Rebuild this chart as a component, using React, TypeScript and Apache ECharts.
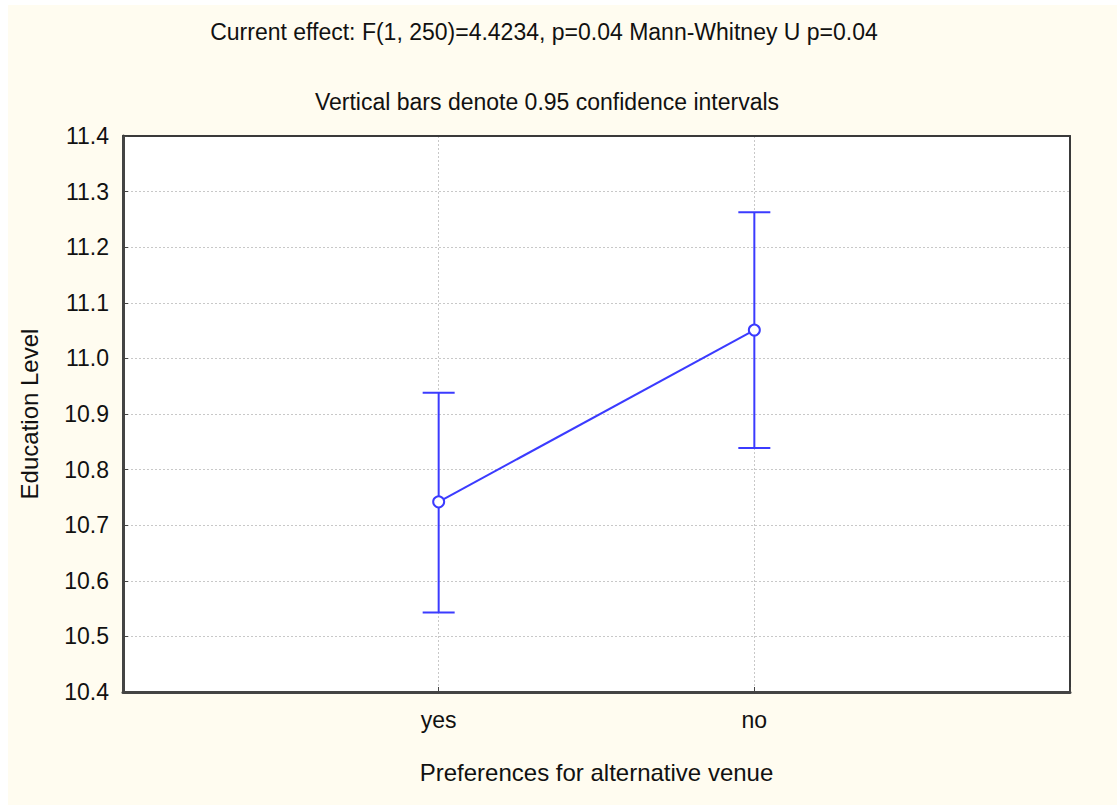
import React, { useEffect, useRef } from "react";
import * as echarts from "echarts";

const categories = ["yes", "no"];
const means = [10.742, 11.051];
const lowerCI = [10.543, 10.839];
const upperCI = [10.938, 11.263];
const yTicks = { min: 10.4, max: 11.4, step: 0.1 };
const titleLine1 = "Current effect: F(1, 250)=4.4234, p=0.04 Mann-Whitney U p=0.04";
const titleLine2 = "Vertical bars denote 0.95 confidence intervals";
const xName = "Preferences for alternative venue";
const yName = "Education Level";

const BLUE = "#3b3bff";
const FONT = "'Liberation Sans', Arial, sans-serif";

export default function App() {
  const ref = useRef<HTMLDivElement>(null);
  useEffect(() => {
    if (!ref.current) return;
    const chart = echarts.init(ref.current, undefined, { renderer: "svg" });
    const lineData = means.map((m, i) => [i + 1, m]);
    const errData = means.map((_, i) => [i + 1, lowerCI[i], upperCI[i]]);
    const frameAxis = {
      type: "value",
      min: 0,
      max: 1,
      axisLine: { show: true, onZero: false, lineStyle: { color: "#3a3a3a", width: 2 } },
      axisTick: { show: false },
      axisLabel: { show: false },
      splitLine: { show: false },
    };
    chart.setOption({
      animation: false,
      backgroundColor: "#fffcf0",
      textStyle: { fontFamily: FONT },
      graphic: [
        {
          type: "text",
          x: 536,
          y: 27,
          style: {
            text: titleLine1,
            fontSize: 23,
            fill: "#111",
            fontFamily: FONT,
            textAlign: "center",
            textVerticalAlign: "middle",
          },
        },
        {
          type: "text",
          x: 539,
          y: 97,
          style: {
            text: titleLine2,
            fontSize: 23,
            fill: "#111",
            fontFamily: FONT,
            textAlign: "center",
            textVerticalAlign: "middle",
          },
        },
      ],
      grid: {
        left: 115,
        right: 47,
        top: 131,
        bottom: 113,
        containLabel: false,
        outerBoundsMode: "none",
        show: true,
        backgroundColor: "#ffffff",
        borderColor: "#3a3a3a",
        borderWidth: 0,
      },
      xAxis: [
        {
          type: "value",
          min: 0,
          max: 3,
          interval: 1,
          name: xName,
          nameLocation: "middle",
          nameGap: 68,
          nameTextStyle: { fontSize: 24, color: "#111", fontFamily: FONT },
          axisLine: { show: true, lineStyle: { color: "#444", width: 3 } },
          axisTick: { show: true, inside: true, length: 5, lineStyle: { color: "#444", width: 1 } },
          axisLabel: {
            fontSize: 23,
            color: "#111",
            margin: 16,
            formatter: (v: number) => (v >= 1 && v <= categories.length ? categories[v - 1] : ""),
          },
          splitLine: { show: true, lineStyle: { color: "#c8c8c8", type: [2, 2], width: 1 } },
        },
        { ...frameAxis, position: "top" },
      ],
      yAxis: [
        {
          type: "value",
          min: yTicks.min,
          max: yTicks.max,
          interval: yTicks.step,
          name: yName,
          nameLocation: "middle",
          nameGap: 82,
          nameTextStyle: { fontSize: 24, color: "#111", fontFamily: FONT },
          axisLine: { show: true, lineStyle: { color: "#444", width: 3 } },
          axisTick: { show: true, inside: true, length: 5, lineStyle: { color: "#444", width: 1 } },
          axisLabel: {
            fontSize: 23,
            color: "#111",
            margin: 14,
            formatter: (v: number) => v.toFixed(1),
          },
          splitLine: { show: true, lineStyle: { color: "#c8c8c8", type: [2, 2], width: 1 } },
        },
        { ...frameAxis, position: "right" },
      ],
      series: [
        {
          type: "custom",
          data: errData,
          z: 3,
          renderItem: (params: any, api: any) => {
            const x = api.value(0);
            const lo = api.coord([x, api.value(1)]);
            const hi = api.coord([x, api.value(2)]);
            const half = 16;
            const style = { stroke: BLUE, lineWidth: 2 };
            return {
              type: "group",
              children: [
                { type: "line", shape: { x1: lo[0], y1: lo[1], x2: hi[0], y2: hi[1] }, style },
                { type: "line", shape: { x1: lo[0] - half, y1: lo[1], x2: lo[0] + half, y2: lo[1] }, style },
                { type: "line", shape: { x1: hi[0] - half, y1: hi[1], x2: hi[0] + half, y2: hi[1] }, style },
              ],
            };
          },
        },
        {
          type: "line",
          data: lineData,
          z: 4,
          symbol: "circle",
          symbolSize: 11,
          lineStyle: { color: BLUE, width: 2 },
          itemStyle: { color: "#ffffff", borderColor: BLUE, borderWidth: 2 },
        },
      ],
    });
    return () => chart.dispose();
  }, []);
  return (
    <div
      ref={ref}
      style={{ position: "fixed", left: 8, top: 5, width: 1109, height: 800 }}
    />
  );
}
